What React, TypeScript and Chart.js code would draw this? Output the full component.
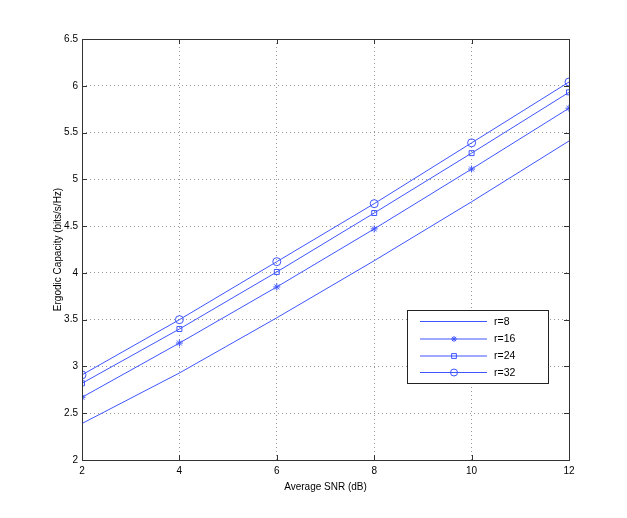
import React, { useEffect, useRef } from "react";
import { Chart, registerables } from "chart.js";

Chart.register(...registerables);

const snr = [2, 4, 6, 8, 10, 12];
const r8 = [2.39, 2.93, 3.52, 4.13, 4.76, 5.41];
const r16 = [2.67, 3.25, 3.85, 4.47, 5.11, 5.76];
const r24 = [2.82, 3.4, 4.01, 4.64, 5.28, 5.93];
const r32 = [2.91, 3.5, 4.12, 4.74, 5.39, 6.04];
const labels = ["r=8", "r=16", "r=24", "r=32"];
const xTicks = [2, 4, 6, 8, 10, 12];
const yTicks = [2, 2.5, 3, 3.5, 4, 4.5, 5, 5.5, 6, 6.5];

const BLUE = "#3f55ff";
const FONT = "'Liberation Sans', Arial, sans-serif";

const matlabPlugin = {
  id: "matlab",
  afterDraw(chart: any) {
    const { ctx, chartArea: a, scales } = chart;
    ctx.save();
    ctx.strokeStyle = "#333";
    ctx.lineWidth = 1;
    ctx.strokeRect(a.left + 0.5, a.top + 0.5, a.right - a.left, a.bottom - a.top);
    const tl = 5;
    ctx.beginPath();
    for (const v of xTicks) {
      const x = Math.round(scales.x.getPixelForValue(v)) + 0.5;
      ctx.moveTo(x, a.bottom);
      ctx.lineTo(x, a.bottom - tl);
      ctx.moveTo(x, a.top);
      ctx.lineTo(x, a.top + tl);
    }
    for (const v of yTicks) {
      const y = Math.round(scales.y.getPixelForValue(v)) + 0.5;
      ctx.moveTo(a.left, y);
      ctx.lineTo(a.left + tl, y);
      ctx.moveTo(a.right, y);
      ctx.lineTo(a.right - tl, y);
    }
    ctx.stroke();
    ctx.fillStyle = "#000";
    ctx.font = `10px ${FONT}`;
    ctx.textAlign = "center";
    ctx.textBaseline = "middle";
    ctx.fillText("Average SNR (dB)", (a.left + a.right) / 2, 487);
    ctx.save();
    ctx.translate(58, (a.top + a.bottom) / 2);
    ctx.rotate(-Math.PI / 2);
    ctx.fillText("Ergodic Capacity (bits/s/Hz)", 0, 0);
    ctx.restore();
    const lx = 407, ly = 310, lw = 141, lh = 73;
    ctx.fillStyle = "#fff";
    ctx.fillRect(lx, ly, lw, lh);
    ctx.strokeStyle = "#222";
    ctx.strokeRect(lx + 0.5, ly + 0.5, lw, lh);
    const rows = [321, 338.5, 355.5, 372];
    chart.data.datasets.forEach((ds: any, i: number) => {
      const y = rows[i];
      ctx.strokeStyle = BLUE;
      ctx.lineWidth = 1;
      ctx.beginPath();
      ctx.moveTo(420, y + 0.5);
      ctx.lineTo(487, y + 0.5);
      ctx.stroke();
      if (ds.pointStyle && ds.pointRadius > 0) {
        drawMarker(ctx, ds.pointStyle, 454, y + 0.5, ds.pointRadius - 0.5);
      }
      ctx.fillStyle = "#000";
      ctx.font = `10.5px ${FONT}`;
      ctx.textAlign = "left";
      ctx.textBaseline = "middle";
      ctx.fillText(ds.label, 494, y + 1);
    });
    ctx.restore();
  },
};

function drawMarker(ctx: any, style: string, x: number, y: number, r: number) {
  ctx.save();
  ctx.strokeStyle = BLUE;
  ctx.lineWidth = 1;
  ctx.beginPath();
  if (style === "circle") {
    ctx.arc(x, y, r, 0, Math.PI * 2);
  } else if (style === "rect") {
    ctx.rect(x - r * 0.8, y - r * 0.8, r * 1.6, r * 1.6);
  } else if (style === "star") {
    for (let k = 0; k < 4; k++) {
      const ang = (k * Math.PI) / 4;
      ctx.moveTo(x + Math.cos(ang) * r, y + Math.sin(ang) * r);
      ctx.lineTo(x - Math.cos(ang) * r, y - Math.sin(ang) * r);
    }
  }
  ctx.stroke();
  ctx.restore();
}

export default function App() {
  const ref = useRef<HTMLCanvasElement>(null);
  useEffect(() => {
    if (!ref.current) return;
    const mk = (label: string, vals: number[], style: string | false, radius: number) => ({
      label,
      data: snr.map((x, i) => ({ x, y: vals[i] })),
      borderColor: BLUE,
      backgroundColor: "rgba(0,0,0,0)",
      borderWidth: 1,
      pointStyle: style,
      pointRadius: radius,
      pointBorderColor: BLUE,
      pointBackgroundColor: "rgba(0,0,0,0)",
      pointBorderWidth: 1,
      tension: 0,
    });
    const chart = new Chart(ref.current, {
      type: "line",
      data: {
        datasets: [
          mk(labels[0], r8, false, 0),
          mk(labels[1], r16, "star", 3.5),
          mk(labels[2], r24, "rect", 3.5),
          mk(labels[3], r32, "circle", 4),
        ] as any,
      },
      options: {
        animation: false,
        responsive: false,
        devicePixelRatio: 1,
        layout: { padding: { left: 0, top: 39, right: 58, bottom: 0 } },
        plugins: { legend: { display: false }, tooltip: { enabled: false } },
        scales: {
          x: {
            type: "linear",
            min: 2,
            max: 12,
            afterBuildTicks: (s: any) => {
              s.ticks = xTicks.map((v) => ({ value: v }));
            },
            afterFit: (s: any) => {
              s.height = 58;
            },
            ticks: {
              color: "#000",
              font: { size: 10, family: FONT },
              padding: 5,
              callback: (v: any) => String(v),
            },
            grid: { color: "#999", drawTicks: false },
            border: { display: false, dash: [1, 3] },
          },
          y: {
            type: "linear",
            min: 2,
            max: 6.5,
            afterBuildTicks: (s: any) => {
              s.ticks = yTicks.map((v) => ({ value: v }));
            },
            afterFit: (s: any) => {
              s.width = 82;
            },
            ticks: {
              color: "#000",
              font: { size: 10, family: FONT },
              padding: 4,
              callback: (v: any) => String(v),
            },
            grid: { color: "#999", drawTicks: false },
            border: { display: false, dash: [1, 3] },
          },
        },
      } as any,
      plugins: [matlabPlugin],
    });
    return () => chart.destroy();
  }, []);
  return (
    <div style={{ position: "fixed", left: 0, top: 0, width: 627, height: 518, background: "#fff" }}>
      <canvas ref={ref} width={627} height={518} style={{ width: 627, height: 518 }} />
    </div>
  );
}
